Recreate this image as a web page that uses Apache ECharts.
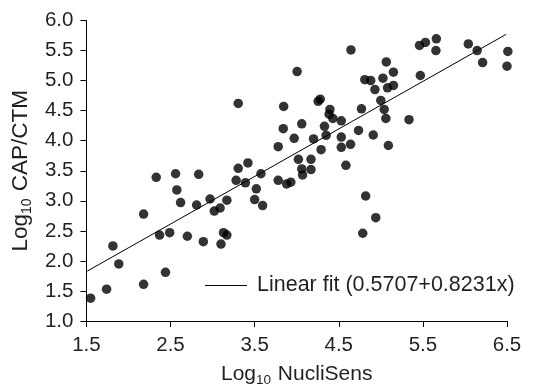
<!DOCTYPE html>
<html>
<head>
<meta charset="utf-8">
<script src="https://cdn.jsdelivr.net/npm/echarts@6/dist/echarts.min.js"></script>
<style>
html,body{margin:0;padding:0;background:#fff;}
#chart{width:534px;height:392px;}
</style>
</head>
<body>
<div id="chart"></div>
<script>
// Log10 NucliSens (x) vs Log10 CAP/CTM (y)
const xValues = [1.55,1.74,1.815,1.885,2.18,2.18,2.44,2.37,2.49,2.33,2.56,2.575,2.62,2.835,2.81,2.70,2.89,2.97,3.02,3.09,3.17,3.10,3.13,3.17,3.28,3.305,3.42,3.39,3.575,3.52,3.50,3.595,3.305,3.78,3.88,3.93,3.845,3.84,3.78,3.97,4.005,4.06,4.02,4.17,4.06,4.17,4.07,4.20,4.255,4.28,4.33,4.35,4.29,4.395,4.385,4.43,4.53,4.53,4.53,4.64,4.585,4.645,4.735,4.77,4.81,4.88,4.93,4.91,5.0,5.04,5.06,5.09,5.025,5.08,5.15,5.065,5.15,5.335,5.47,5.46,5.53,5.66,5.655,6.04,6.145,6.21,6.51,6.50,4.82,4.94,4.785];
const yValues = [1.38,1.53,2.25,1.95,1.61,2.78,1.81,2.43,2.47,3.39,3.45,3.18,2.97,3.44,2.93,2.41,2.32,3.03,2.83,2.88,3.01,2.28,2.47,2.43,3.34,3.54,3.63,3.30,3.45,3.20,3.02,2.92,4.62,3.34,3.28,3.31,4.57,4.20,3.90,4.04,5.15,4.28,3.69,3.69,3.53,3.52,3.43,4.03,4.655,4.69,4.24,4.09,3.85,4.52,4.44,4.37,4.33,4.06,3.89,3.94,3.59,5.51,4.17,4.53,5.015,5.0,4.85,4.095,4.67,4.52,4.37,3.92,5.04,4.88,4.92,5.31,5.14,4.35,5.085,5.585,5.635,5.695,5.5,5.61,5.50,5.30,5.485,5.24,3.08,2.72,2.46];
// fitted line as drawn in the figure (end points)
const fitX = [1.51, 6.49];
const fitY = [1.83, 5.77];
const fitLabel = 'Linear fit (0.5707+0.8231x)';
const xTicks = {min: 1.5, max: 6.5, interval: 1};
const yTicks = {min: 1.0, max: 6.0, interval: 0.5};

const points = xValues.map((x, i) => [x, yValues[i]]);
const fitData = fitX.map((x, i) => [x, fitY[i]]);

const txt = '#231f20';
const font = 'Arial, "Liberation Sans", Helvetica, sans-serif';
const chart = echarts.init(document.getElementById('chart'), null, {renderer: 'canvas'});
chart.setOption({
  animation: false,
  backgroundColor: '#fff',
  grid: {left: 82.5, right: 27, top: 20.5, bottom: 71, containLabel: false},
  legend: {
    left: 205, top: 272.5, padding: 0,
    icon: 'rect', itemWidth: 42, itemHeight: 1, itemGap: 0,
    data: [fitLabel],
    itemStyle: {color: '#000', borderWidth: 0},
    lineStyle: {width: 0},
    textStyle: {color: txt, fontSize: 21.5, fontFamily: font, padding: [0,0,0,5], lineHeight: 26}
  },
  xAxis: {
    type: 'value', min: xTicks.min, max: xTicks.max, interval: xTicks.interval,
    name: '{a|Log}{b|10}{a| NucliSens}', nameLocation: 'middle', nameGap: 37,
    nameTextStyle: {color: txt, fontFamily: font,
      rich: {a: {fontSize: 21, fontFamily: font, color: txt, lineHeight: 26},
             b: {fontSize: 13.5, fontFamily: font, color: txt, lineHeight: 26, padding: [12,1,0,0]}}},
    axisLine: {show: true, onZero: false, lineStyle: {color: '#000', width: 1}},
    axisTick: {show: true, inside: false, length: 6, lineStyle: {color: '#000'}},
    axisLabel: {color: txt, fontSize: 20.5, fontFamily: font, margin: 14,
      formatter: v => v.toFixed(1)},
    splitLine: {show: false}
  },
  yAxis: {
    type: 'value', min: yTicks.min, max: yTicks.max, interval: yTicks.interval,
    name: '{a|Log}{b|10}{a| CAP/CTM}', nameLocation: 'middle', nameGap: 42,
    nameTextStyle: {color: txt, fontFamily: font,
      rich: {a: {fontSize: 22.5, fontFamily: font, color: txt, lineHeight: 26},
             b: {fontSize: 14, fontFamily: font, color: txt, lineHeight: 26, padding: [12,1,0,0]}}},
    axisLine: {show: true, onZero: false, lineStyle: {color: '#000', width: 1}},
    axisTick: {show: true, inside: false, length: 6, lineStyle: {color: '#000'}},
    axisLabel: {color: txt, fontSize: 20.5, fontFamily: font, margin: 13,
      formatter: v => v.toFixed(1)},
    splitLine: {show: false}
  },
  series: [
    {type: 'scatter', name: 'data', data: points, symbol: 'circle', symbolSize: 9.5,
     itemStyle: {color: '#000'}, clip: false},
    {type: 'line', name: fitLabel, data: fitData, showSymbol: false, symbol: 'none',
     lineStyle: {color: '#000', width: 1}, itemStyle: {color: '#000'}}
  ]
});
</script>
</body>
</html>
